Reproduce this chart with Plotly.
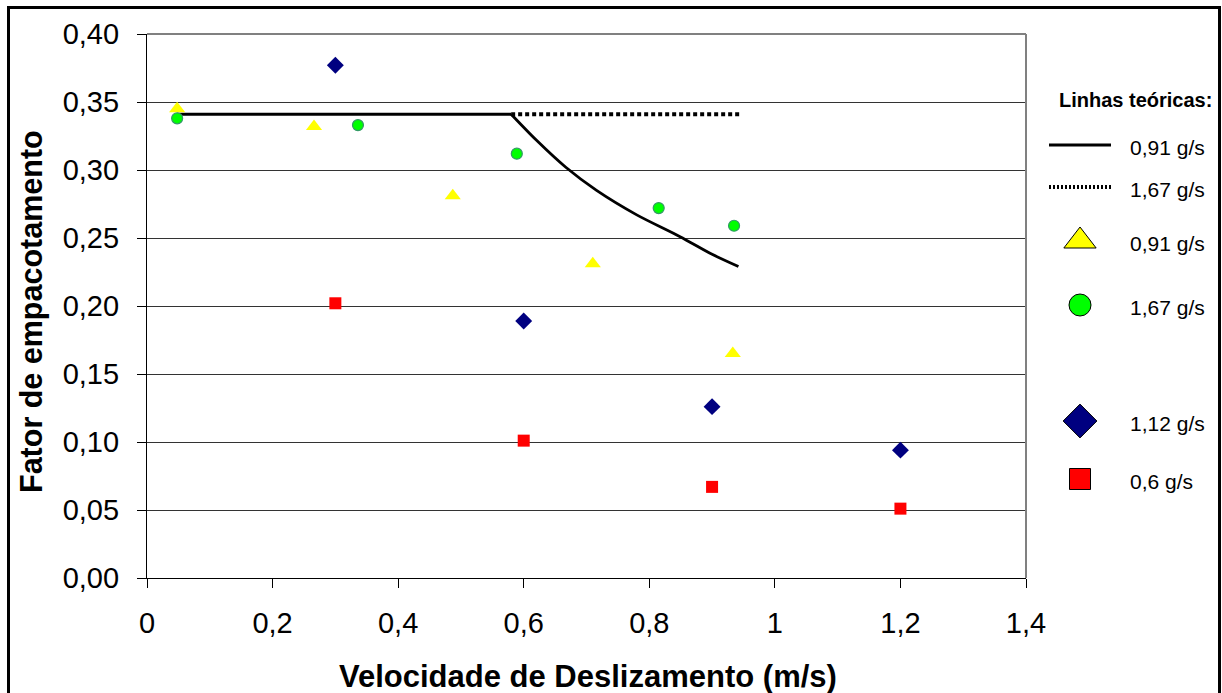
import plotly.graph_objects as go

W, H = 1222, 693

# ---- data ----
tri_x = [0.048, 0.266, 0.487, 0.710, 0.933]        # 0,91 g/s
tri_y = [0.345, 0.332, 0.281, 0.231, 0.165]
cir_x = [0.048, 0.336, 0.589, 0.815, 0.935]        # 1,67 g/s
cir_y = [0.338, 0.333, 0.312, 0.272, 0.259]
dia_x = [0.30, 0.60, 0.90, 1.20]                   # 1,12 g/s
dia_y = [0.377, 0.189, 0.126, 0.094]
sq_x = [0.30, 0.60, 0.90, 1.20]                    # 0,6 g/s
sq_y = [0.202, 0.101, 0.067, 0.051]
theo1_x = [0.048, 0.58, 0.62, 0.667, 0.716, 0.78, 0.849, 0.90, 0.942]   # teórica 0,91 g/s
theo1_y = [0.341, 0.341, 0.322, 0.302, 0.285, 0.267, 0.251, 0.238, 0.229]
theo2_x = [0.58, 0.945]                            # teórica 1,67 g/s
theo2_y = [0.341, 0.341]

x_ticks = [0, 0.2, 0.4, 0.6, 0.8, 1.0, 1.2, 1.4]
x_ticktext = ["0", "0,2", "0,4", "0,6", "0,8", "1", "1,2", "1,4"]
y_ticks = [0.00, 0.05, 0.10, 0.15, 0.20, 0.25, 0.30, 0.35, 0.40]
y_ticktext = ["0,00", "0,05", "0,10", "0,15", "0,20", "0,25", "0,30", "0,35", "0,40"]

legend_labels = ["0,91 g/s", "1,67 g/s", "0,91 g/s", "1,67 g/s", "1,12 g/s", "0,6 g/s"]

FONT = "Arial, Liberation Sans, sans-serif"

# plot area in pixels
PL, PR, PT, PB = 147, 1026, 34, 578


def px(x):
    return x / W


def py(y):
    return 1 - y / H


fig = go.Figure()

# straight plateau + smooth decaying branch of the 0,91 g/s theoretical line
fig.add_trace(go.Scatter(x=theo1_x[:2], y=theo1_y[:2], mode="lines",
                         line=dict(color="black", width=2.8), showlegend=False))
fig.add_trace(go.Scatter(x=theo1_x[1:], y=theo1_y[1:], mode="lines",
                         line=dict(color="black", width=2.8, shape="spline", smoothing=0.8),
                         showlegend=False))
fig.add_trace(go.Scatter(x=theo2_x, y=theo2_y, mode="lines",
                         line=dict(color="black", width=4, dash="4px,3px"), showlegend=False))

fig.add_trace(go.Scatter(x=tri_x, y=tri_y, mode="markers", showlegend=False,
                         marker=dict(symbol="triangle-up", size=14, color="#FFFF00",
                                     line=dict(width=0))))
fig.add_trace(go.Scatter(x=cir_x, y=cir_y, mode="markers", showlegend=False,
                         marker=dict(symbol="circle", size=11, color="#00FF00",
                                     line=dict(width=1.2, color="#339966"))))
fig.add_trace(go.Scatter(x=dia_x, y=dia_y, mode="markers", showlegend=False,
                         marker=dict(symbol="diamond", size=13, color="#000080",
                                     line=dict(width=0))))
fig.add_trace(go.Scatter(x=sq_x, y=sq_y, mode="markers", showlegend=False,
                         marker=dict(symbol="square", size=12, color="#FF0000",
                                     line=dict(width=0))))

# ---- custom legend drawn on a pixel-based helper axis ----
LX0 = 1030
key_cx = 1080
key_y = [145, 187, 241, 305, 421, 479]
text_x = 1128

fig.add_trace(go.Scatter(x=[1049, 1111], y=[key_y[0], key_y[0]], mode="lines", xaxis="x2", yaxis="y2",
                         line=dict(color="black", width=2.8), showlegend=False, hoverinfo="skip"))
fig.add_trace(go.Scatter(x=[1049, 1111], y=[key_y[1], key_y[1]], mode="lines", xaxis="x2", yaxis="y2",
                         line=dict(color="black", width=4, dash="2px,2px"), showlegend=False, hoverinfo="skip"))
leg_markers = [("triangle-up", 28, "#FFFF00"), ("circle", 22, "#00FF00"),
               ("diamond", 26, "#000080"), ("square", 21, "#FF0000")]
for (sym, sz, col), yy in zip(leg_markers, key_y[2:]):
    fig.add_trace(go.Scatter(x=[key_cx], y=[yy], mode="markers", xaxis="x2", yaxis="y2",
                             marker=dict(symbol=sym, size=sz, color=col, line=dict(width=1, color="black")),
                             showlegend=False, hoverinfo="skip"))

annotations = []
annotations.append(dict(x=1135, y=100, xref="x2", yref="y2", text="<b>Linhas teóricas:</b>",
                        showarrow=False, font=dict(family=FONT, size=20, color="black"),
                        xanchor="center", yanchor="middle"))
for lab, yy in zip(legend_labels, key_y):
    annotations.append(dict(x=text_x, y=yy + 2, xref="x2", yref="y2", text=lab, showarrow=False,
                            font=dict(family=FONT, size=21, color="black"),
                            xanchor="left", yanchor="middle"))

# axis titles
annotations.append(dict(x=px(588), y=py(676), xref="paper", yref="paper",
                        text="<b>Velocidade de Deslizamento (m/s)</b>", showarrow=False,
                        font=dict(family=FONT, size=31, color="black"),
                        xanchor="center", yanchor="middle"))
annotations.append(dict(x=px(31), y=py(312), xref="paper", yref="paper",
                        text="<b>Fator de empacotamento</b>", showarrow=False, textangle=-90,
                        font=dict(family=FONT, size=30.5, color="black"),
                        xanchor="center", yanchor="middle"))

shapes = [
    # outer frame
    dict(type="rect", xref="paper", yref="paper", x0=px(8.5), x1=px(1219.5), y0=py(710), y1=py(7.5),
         line=dict(color="black", width=3), fillcolor="rgba(0,0,0,0)", layer="above"),
    # plot border top/right (grey)
    dict(type="line", xref="x domain", yref="y domain", x0=0, x1=1, y0=1, y1=1,
         line=dict(color="#808080", width=2)),
    dict(type="line", xref="x domain", yref="y domain", x0=1, x1=1, y0=0, y1=1,
         line=dict(color="#808080", width=2)),
]

fig.update_layout(
    width=W, height=H,
    margin=dict(l=0, r=0, t=0, b=0, pad=0, autoexpand=False),
    paper_bgcolor="white", plot_bgcolor="white",
    font=dict(family=FONT, color="black"),
    showlegend=False,
    xaxis=dict(domain=[px(PL), px(PR)], range=[0, 1.4], tickvals=x_ticks, ticktext=x_ticktext,
               showgrid=False, zeroline=False, showline=True, linecolor="black", linewidth=1.2,
               ticks="outside", ticklen=9, tickcolor="black", tickwidth=1.2,
               tickfont=dict(family=FONT, size=29, color="black"), ticklabelstandoff=10,
               automargin=False, fixedrange=True),
    yaxis=dict(domain=[py(PB), py(PT)], range=[0, 0.40], tickvals=y_ticks, ticktext=y_ticktext,
               showgrid=True, gridcolor="#333333", gridwidth=1.2, zeroline=False,
               showline=True, linecolor="black", linewidth=1.2,
               ticks="outside", ticklen=9, tickcolor="black", tickwidth=1.2,
               tickfont=dict(family=FONT, size=29, color="black"), ticklabelstandoff=12,
               automargin=False, fixedrange=True),
    xaxis2=dict(domain=[px(LX0), 1], range=[LX0, W], visible=False, fixedrange=True, anchor="y2",
                automargin=False),
    yaxis2=dict(domain=[0, 1], range=[H, 0], visible=False, fixedrange=True, anchor="x2",
                automargin=False),
    annotations=annotations,
    shapes=shapes,
)

fig.write_html("out.html")
